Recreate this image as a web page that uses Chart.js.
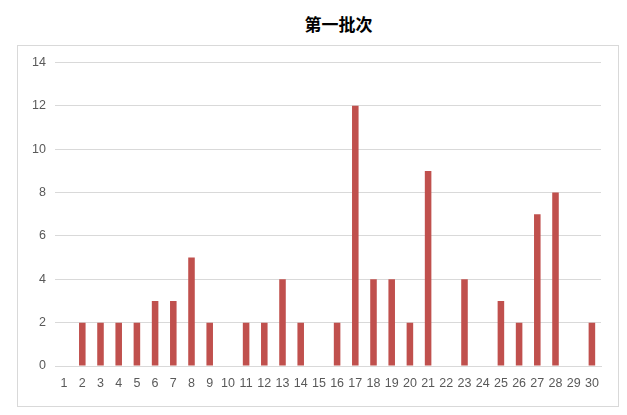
<!DOCTYPE html>
<html>
<head>
<meta charset="utf-8">
<script src="https://cdn.jsdelivr.net/npm/chart.js@4"></script>
<style>
  body { margin: 0; background: #fff; width: 627px; height: 415px; position: relative; overflow: hidden; }
  #biaoti { position: absolute; left: 0; width: 677px; top: 11px; text-align: center;
    font-family: "Noto Sans CJK SC", sans-serif; font-weight: bold; font-size: 17px; color: #000; }
  #kutija { position: absolute; left: 17px; top: 45px; width: 600px; height: 360px; border: 1px solid #d9d9d9; }
</style>
</head>
<body>
<div id="biaoti">第一批次</div>
<div id="kutija"><canvas id="grafikon" width="600" height="360"></canvas></div>
<script>
const kategorije = ["1","2","3","4","5","6","7","8","9","10","11","12","13","14","15","16","17","18","19","20","21","22","23","24","25","26","27","28","29","30"];
const vrijednosti = [0,2,2,2,2,3,3,5,2,0,2,2,4,2,0,2,12,4,4,2,9,0,4,0,3,2,7,8,0,2];
const yMax = 14;
const yKorak = 2;

new Chart(document.getElementById("grafikon").getContext("2d"), {
    type: "bar",
    data: {
        labels: kategorije,
        datasets: [{
            data: vrijednosti,
            backgroundColor: "#c0504d",
            borderWidth: 0,
            barPercentage: 0.36,
            categoryPercentage: 1
        }]
    },
    options: {
        responsive: false,
        animation: false,
        layout: { padding: { top: 13, right: 17, bottom: 9, left: 0 } },
        plugins: {
            legend: { display: false },
            title: { display: false },
            tooltip: { enabled: false }
        },
        scales: {
            x: {
                grid: { display: false },
                border: { color: "#d9d9d9" },
                ticks: { color: "#595959", font: { family: "Liberation Sans", size: 12.5 }, padding: 2, maxRotation: 0, autoSkip: false },
                afterFit: s => { s.height = 31; }
            },
            y: {
                min: 0,
                max: yMax,
                grid: { color: "#d9d9d9", drawTicks: false },
                border: { display: false },
                ticks: { stepSize: yKorak, color: "#595959", font: { family: "Liberation Sans", size: 12.5 }, padding: 9 },
                afterFit: s => { s.width = 37; }
            }
        }
    }
});
</script>
</body>
</html>
